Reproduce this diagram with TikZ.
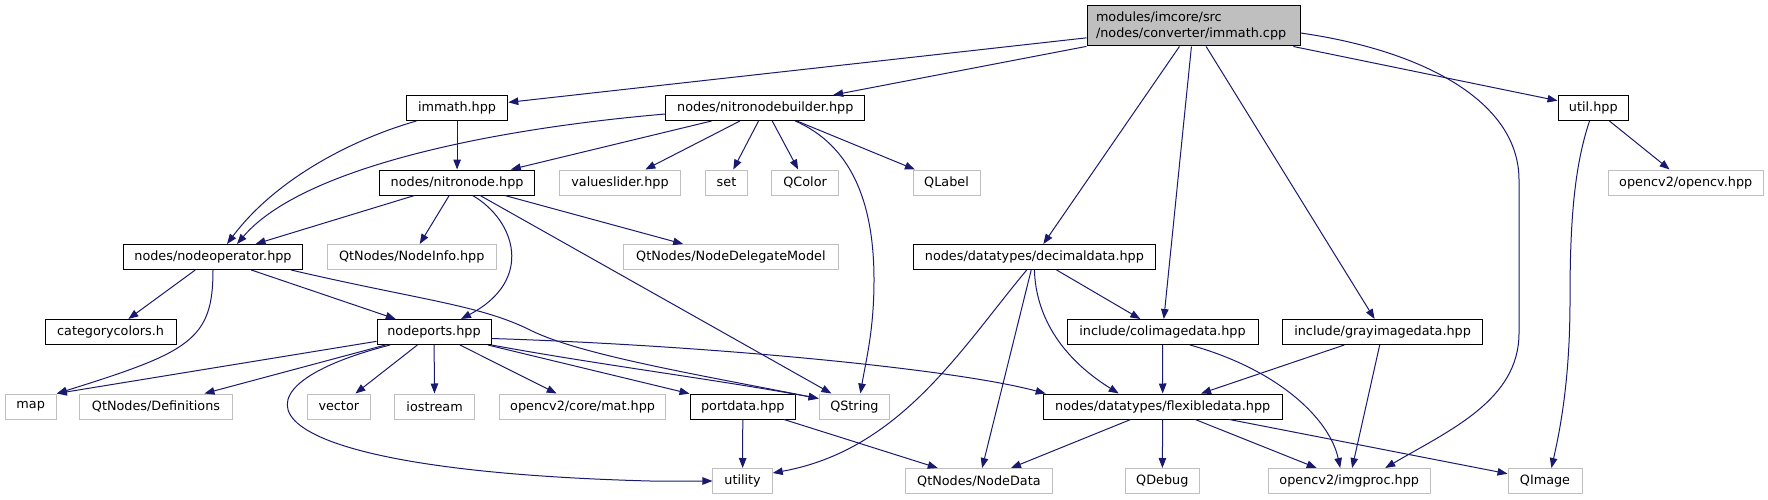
\documentclass[tikz,border=0pt]{standalone}
\usepackage{fontspec}
\setmainfont{DejaVu Sans}
\usetikzlibrary{arrows.meta}

\begin{document}
\begin{tikzpicture}[x=1pt, y=-1pt, every node/.style={font=\fontsize{12.8}{16.7}\selectfont}]
		% Define colors
		\definecolor{edgeblue}{RGB}{25, 25, 112} % midnight blue edges
		\definecolor{extgray}{RGB}{191, 191, 191}
		\definecolor{mainfill}{RGB}{191, 191, 191}

		% Styles
		\tikzstyle{main_box} = [fill=mainfill, draw=black, line width=1pt, inner sep=0pt, minimum height=40pt, align=left, text width=195pt]
		\tikzstyle{inc_box} = [fill=white, draw=black, line width=1pt, inner sep=0pt, minimum height=25pt, align=center]
		\tikzstyle{ext_box} = [fill=white, draw=extgray, line width=1pt, inner sep=0pt, minimum height=25pt, align=center]
		\tikzstyle{dep_edge} = [draw=edgeblue, line width=1pt, -{Triangle[length=10pt,width=7.5pt]}]

		% Row Y positions
		\def\rowone{108}
		\def\rowtwo{182.5}
		\def\rowthree{257}
		\def\rowfour{332}
		\def\rowfive{406.5}
		\def\rowsix{481}

		\useasboundingbox (0,0) rectangle (1768,500);

		% The file itself
		\node[main_box, minimum width=213pt] (main) at (1193.5, 26) {modules/imcore/src\\/nodes/converter/immath.cpp};

		% Row 1
		\node[inc_box, minimum width=101.4pt] (immath) at (457.1, \rowone) {immath.hpp};
		\node[inc_box, minimum width=199pt] (builder) at (765.3, \rowone) {nodes/nitronodebuilder.hpp};
		\node[inc_box, minimum width=70.6pt] (util) at (1593.3, \rowone) {util.hpp};

		% Row 2
		\node[inc_box, minimum width=155pt] (nitronode) at (457.1, \rowtwo) {nodes/nitronode.hpp};
		\node[ext_box, minimum width=121pt] (valueslider) at (620, \rowtwo) {valueslider.hpp};
		\node[ext_box, minimum width=42.5pt] (setinc) at (726.5, \rowtwo) {set};
		\node[ext_box, minimum width=66.6pt] (qcolor) at (805.1, \rowtwo) {QColor};
		\node[ext_box, minimum width=67pt] (qlabel) at (946.5, \rowtwo) {QLabel};
		\node[ext_box, minimum width=155.4pt] (opencv) at (1685.7, \rowtwo) {opencv2/opencv.hpp};

		% Row 3
		\node[inc_box, minimum width=178.7pt] (nodeop) at (213, \rowthree) {nodes/nodeoperator.hpp};
		\node[ext_box, minimum width=169.2pt] (nodeinfo) at (411.8, \rowthree) {QtNodes/NodeInfo.hpp};
		\node[ext_box, minimum width=214.3pt] (delegate) at (730.9, \rowthree) {QtNodes/NodeDelegateModel};
		\node[inc_box, minimum width=242.7pt] (decimal) at (1034.4, \rowthree) {nodes/datatypes/decimaldata.hpp};

		% Row 4
		\node[inc_box, minimum width=130.8pt] (catcolors) at (110.6, \rowfour) {categorycolors.h};
		\node[inc_box, minimum width=114pt] (nodeports) at (434, \rowfour) {nodeports.hpp};
		\node[inc_box, minimum width=191pt] (colimage) at (1162.5, \rowfour) {include/colimagedata.hpp};
		\node[inc_box, minimum width=200pt] (grayimage) at (1382.6, \rowfour) {include/grayimagedata.hpp};

		% Row 5
		\node[ext_box, minimum width=51.3pt] (map) at (30.7, \rowfive) {map};
		\node[ext_box, minimum width=152.7pt] (definitions) at (156, \rowfive) {QtNodes/Definitions};
		\node[ext_box, minimum width=63.5pt] (vector) at (338.8, \rowfive) {vector};
		\node[ext_box, minimum width=80pt] (iostream) at (434.6, \rowfive) {iostream};
		\node[ext_box, minimum width=166.4pt] (matinc) at (582.6, \rowfive) {opencv2/core/mat.hpp};
		\node[inc_box, minimum width=105.6pt] (portdata) at (742.8, \rowfive) {portdata.hpp};
		\node[ext_box, minimum width=70.7pt] (qstring) at (854.4, \rowfive) {QString};
		\node[inc_box, minimum width=239pt] (flexible) at (1162.7, \rowfive) {nodes/datatypes/flexibledata.hpp};

		% Row 6
		\node[ext_box, minimum width=59.3pt] (utility) at (742.6, \rowsix) {utility};
		\node[ext_box, minimum width=147pt] (nodedata) at (978.9, \rowsix) {QtNodes/NodeData};
		\node[ext_box, minimum width=73.5pt] (qdebug) at (1162.3, \rowsix) {QDebug};
		\node[ext_box, minimum width=162.4pt] (imgproc) at (1349.2, \rowsix) {opencv2/imgproc.hpp};
		\node[ext_box, minimum width=74pt] (qimage) at (1545, \rowsix) {QImage};

		% Includes of immath.cpp
		\draw[dep_edge] (main) -- (immath);
		\draw[dep_edge] (main) -- (builder);
		\draw[dep_edge] (main) -- (decimal);
		\draw[dep_edge] (main) -- (colimage);
		\draw[dep_edge] (main) -- (grayimage);
		\draw[dep_edge] (main) -- (util);
		\draw[dep_edge] ([yshift=-7pt]main.east) .. controls (1420,50) and (1519,100) .. (1519,180) -- (1519,333) .. controls (1519,400) and (1450,430) .. ([xshift=36pt]imgproc.north);

		% immath.hpp
		\draw[dep_edge] (immath) -- (nitronode);
		\draw[dep_edge] ([xshift=-40.7pt]immath.south) .. controls (350,140) and (275,180) .. ([xshift=14pt]nodeop.north);

		% nitronodebuilder.hpp
		\draw[dep_edge] ([yshift=-6pt]builder.west) .. controls (480,130) and (300,170) .. ([xshift=24pt]nodeop.north);
		\draw[dep_edge] (builder) -- (nitronode);
		\draw[dep_edge] (builder) -- (valueslider);
		\draw[dep_edge] (builder) -- (setinc);
		\draw[dep_edge] (builder) -- (qcolor);
		\draw[dep_edge] (builder) -- (qlabel);
		\draw[dep_edge] ([xshift=30pt]builder.south) .. controls (850,145) and (874,200) .. (874,280) .. controls (874,330) and (866,360) .. ([xshift=6pt]qstring.north);

		% nitronode.hpp
		\draw[dep_edge] (nitronode) -- (nodeop);
		\draw[dep_edge] (nitronode) -- (nodeinfo);
		\draw[dep_edge] (nitronode) -- (delegate);
		\draw[dep_edge] (nitronode) -- (qstring);
		\draw[dep_edge] ([xshift=15.5pt]nitronode.south) .. controls (515,220) and (535,280) .. ([xshift=27pt]nodeports.north);

		% nodeoperator.hpp
		\draw[dep_edge] (nodeop) -- (catcolors);
		\draw[dep_edge] (nodeop.south) .. controls (213,340) and (190,352) .. (map.north east);
		\draw[dep_edge] (nodeop) -- (nodeports);
		\draw[dep_edge] ([xshift=78pt]nodeop.south) .. controls (420,300) and (480,305) .. (530,330) .. controls (580,355) and (700,375) .. ([yshift=8pt]qstring.west);

		% nodeports.hpp
		\draw[dep_edge] (nodeports) -- (map.north east);
		\draw[dep_edge] (nodeports) -- (definitions);
		\draw[dep_edge] (nodeports) -- (vector);
		\draw[dep_edge] (nodeports) -- (iostream);
		\draw[dep_edge] (nodeports) -- (matinc);
		\draw[dep_edge] (nodeports) -- (portdata);
		\draw[dep_edge] (nodeports.south east) .. controls (600,365) and (720,380) .. ([yshift=8pt]qstring.west);
		\draw[dep_edge] ([yshift=-6.5pt]nodeports.east) .. controls (700,345) and (950,368) .. ([xshift=3pt]flexible.north west);
		\draw[dep_edge] ([xshift=-44pt]nodeports.south) .. controls (215,390) and (240,470) .. (650,481) -- (utility.west);

		% decimaldata.hpp
		\draw[dep_edge] (decimal) -- (colimage);
		\draw[dep_edge] (decimal.south) .. controls (1036,320) and (1065,360) .. ([xshift=-44pt]flexible.north);
		\draw[dep_edge] (decimal) -- (nodedata);
		\draw[dep_edge] ([xshift=-7.7pt]decimal.south) .. controls (960,350) and (900,450) .. ([yshift=8pt]utility.east);

		% colimagedata.hpp / grayimagedata.hpp
		\draw[dep_edge] (colimage) -- (flexible);
		\draw[dep_edge] ([xshift=27.5pt]colimage.south) .. controls (1280,370) and (1330,420) .. ([xshift=-9pt]imgproc.north);
		\draw[dep_edge] (grayimage) -- (flexible);
		\draw[dep_edge] (grayimage) -- (imgproc);

		% flexibledata.hpp
		\draw[dep_edge] (flexible) -- (nodedata);
		\draw[dep_edge] (flexible) -- (qdebug);
		\draw[dep_edge] (flexible) -- (imgproc);
		\draw[dep_edge] (flexible) -- (qimage);

		% portdata.hpp
		\draw[dep_edge] (portdata) -- (utility);
		\draw[dep_edge] (portdata) -- (nodedata);

		% util.hpp
		\draw[dep_edge] (util) -- (opencv);
		\draw[dep_edge] ([xshift=-3.8pt]util.south) .. controls (1573,170) and (1570,230) .. (1570,300) .. controls (1570,380) and (1560,430) .. ([xshift=6.4pt]qimage.north);

	\end{tikzpicture}
\end{document}
